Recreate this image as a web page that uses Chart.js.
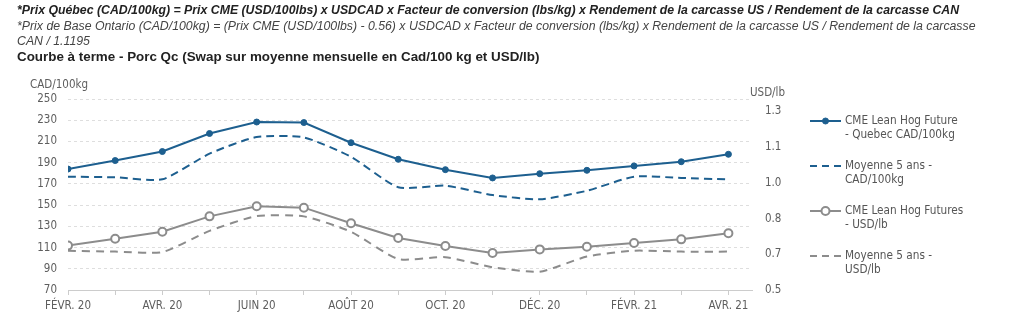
<!DOCTYPE html>
<html>
<head>
<meta charset="utf-8">
<script src="https://cdn.jsdelivr.net/npm/chart.js@4/dist/chart.umd.min.js"></script>
<style>
  html, body { margin: 0; padding: 0; background: #fff; }
  body { width: 1024px; height: 322px; position: relative; overflow: hidden; }
  .note { position: absolute; left: 17px; font-family: 'Liberation Sans', Arial, sans-serif; font-size: 12.3px; line-height: 15px; white-space: nowrap; }
  #l1 { top: 3px; font-weight: bold; font-style: italic; color: #222; }
  #l2 { top: 19px; font-style: italic; color: #444; }
  #l3 { top: 34px; font-style: italic; color: #444; }
  #l4 { top: 49px; font-weight: bold; color: #222; font-size: 13.4px; }
  #wrap { position: absolute; left: 0; top: 0; width: 1024px; height: 322px; }
</style>
</head>
<body>
<div id="wrap"><canvas id="forwardChart"></canvas></div>
<div class="note" id="l1">*Prix Québec (CAD/100kg) = Prix CME (USD/100lbs) x USDCAD x Facteur de conversion (lbs/kg) x Rendement de la carcasse US / Rendement de la carcasse CAN</div>
<div class="note" id="l2">*Prix de Base Ontario (CAD/100kg) = (Prix CME (USD/100lbs) - 0.56) x USDCAD x Facteur de conversion (lbs/kg) x Rendement de la carcasse US / Rendement de la carcasse</div>
<div class="note" id="l3">CAN / 1.1195</div>
<div class="note" id="l4">Courbe à terme - Porc Qc (Swap sur moyenne mensuelle en Cad/100 kg et USD/lb)</div>
<script>
// months of the forward curve
let months = ['FÉVR. 20', 'MARS 20', 'AVR. 20', 'MAI 20', 'JUIN 20', 'JUIL. 20', 'AOÛT 20', 'SEPT. 20',
    'OCT. 20', 'NOV. 20', 'DÉC. 20', 'JANV. 21', 'FÉVR. 21', 'MARS 21', 'AVR. 21'];

// CAD/100kg series (left axis)
let quebecCad = [184, 192, 200.5, 217.5, 228.3, 227.8, 208.8, 193.2, 183.4, 175.6, 179.6, 182.8, 186.9, 190.9, 197.9];
let avgCad = [176.8, 176.2, 174.3, 198.5, 214.2, 213.8, 195.5, 166.8, 168.3, 159.5, 155.5, 163.5, 176.8, 175.6, 174.2];

// USD/lb series (right axis)
let cmeUsd = [0.699, 0.730, 0.761, 0.830, 0.875, 0.869, 0.799, 0.733, 0.697, 0.666, 0.682, 0.694, 0.711, 0.727, 0.754];
let avgUsd = [0.676, 0.672, 0.670, 0.765, 0.831, 0.830, 0.761, 0.639, 0.647, 0.602, 0.582, 0.650, 0.676, 0.672, 0.672];

// axis ranges / ticks
let cadMin = 70, cadMax = 250, cadStep = 20;
let usdTicks = [0.5, 0.66, 0.82, 0.98, 1.14, 1.3];
let usdMin = 0.5, usdMax = 1.356;

const BLUE = '#1d5f8f';
const GREY = '#8c8c8c';
const TICK_FONT = "'DejaVu Sans Condensed', 'Open Sans', sans-serif";
const TICK_COLOR = '#5e5e5e';

const toXY = arr => arr.map((v, i) => ({ x: i, y: v }));

let data = {
    datasets: [{
        label: ['CME Lean Hog Future', '- Quebec CAD/100kg'],
        data: toXY(quebecCad),
        yAxisID: 'yCad',
        borderColor: BLUE,
        backgroundColor: BLUE,
        borderWidth: 2,
        pointRadius: 3,
        pointBorderWidth: 1,
        pointBackgroundColor: BLUE,
        tension: 0
    }, {
        label: ['Moyenne 5 ans -', 'CAD/100kg'],
        data: toXY(avgCad),
        yAxisID: 'yCad',
        borderColor: BLUE,
        borderWidth: 2,
        borderDash: [8, 5],
        pointRadius: 0,
        tension: 0.2
    }, {
        label: ['CME Lean Hog Futures', '- USD/lb'],
        data: toXY(cmeUsd),
        yAxisID: 'yUsd',
        borderColor: GREY,
        borderWidth: 2,
        pointRadius: 4,
        pointBorderWidth: 2,
        pointBackgroundColor: '#fff',
        pointBorderColor: GREY,
        tension: 0
    }, {
        label: ['Moyenne 5 ans -', 'USD/lb'],
        data: toXY(avgUsd),
        yAxisID: 'yUsd',
        borderColor: GREY,
        borderWidth: 2,
        borderDash: [8, 6],
        pointRadius: 0,
        tension: 0.2
    }]
};

// axis unit captions + side legend
const extras = {
    id: 'extras',
    afterDraw(chart) {
        const ctx = chart.ctx;
        ctx.save();
        ctx.font = '11.5px ' + TICK_FONT;
        ctx.fillStyle = TICK_COLOR;
        ctx.textBaseline = 'middle';
        ctx.textAlign = 'left';
        ctx.fillText('CAD/100kg', 30, 85);
        ctx.fillText('USD/lb', 750, 93);

        ctx.font = '11.7px ' + TICK_FONT;
        const rows = [121, 166, 211, 256];
        chart.data.datasets.forEach((ds, i) => {
            const y = rows[i];
            ctx.strokeStyle = ds.borderColor;
            ctx.lineWidth = 2;
            ctx.setLineDash(ds.borderDash ? [7, 5] : []);
            ctx.beginPath();
            ctx.moveTo(810, y);
            ctx.lineTo(841, y);
            ctx.stroke();
            ctx.setLineDash([]);
            if (ds.pointRadius > 0) {
                ctx.beginPath();
                ctx.arc(825.5, y, ds.pointRadius, 0, Math.PI * 2);
                ctx.fillStyle = ds.pointBackgroundColor;
                ctx.fill();
                ctx.lineWidth = ds.pointBorderWidth;
                ctx.strokeStyle = ds.pointBorderColor || ds.borderColor;
                ctx.stroke();
            }
            ctx.fillStyle = '#555';
            ds.label.forEach((t, k) => ctx.fillText(t, 845, y + k * 14));
        });
        ctx.restore();
    }
};

const config = {
    responsive: true,
    maintainAspectRatio: false,
    animation: false,
    layout: { padding: { top: 99, left: 0, right: 224, bottom: 0 } },
    plugins: {
        legend: { display: false },
        tooltip: { enabled: false }
    },
    scales: {
        x: {
            type: 'linear',
            min: 0,
            max: months.length - 0.5,
            afterBuildTicks: axis => { axis.ticks = months.map((m, i) => ({ value: i })); },
            afterFit: axis => { axis.height = 32; },
            ticks: {
                autoSkip: false,
                maxRotation: 0,
                padding: 4,
                color: TICK_COLOR,
                font: { family: TICK_FONT, size: 11.5 },
                callback: v => (v % 2 === 0 ? months[v] : '')
            },
            grid: { drawOnChartArea: false, drawTicks: true, tickLength: 5, color: '#ccc' },
            border: { display: true, color: '#ccc', width: 1 }
        },
        yCad: {
            position: 'left',
            min: cadMin,
            max: cadMax,
            afterFit: axis => { axis.width = 68; },
            ticks: {
                stepSize: cadStep,
                padding: 11,
                color: TICK_COLOR,
                font: { family: TICK_FONT, size: 11.5 }
            },
            grid: { color: '#dedede', drawTicks: false },
            border: { display: false, dash: [3, 3] }
        },
        yUsd: {
            position: 'right',
            min: usdMin,
            max: usdMax,
            afterBuildTicks: axis => { axis.ticks = usdTicks.map(v => ({ value: v })); },
            afterFit: axis => { axis.width = 48; },
            ticks: {
                padding: 13,
                color: TICK_COLOR,
                font: { family: TICK_FONT, size: 11.5 },
                callback: v => v.toFixed(1)
            },
            grid: { display: false, drawTicks: false },
            border: { display: false }
        }
    }
};

let f_Chart = document.getElementById('forwardChart').getContext('2d');

let forward_Chart = new Chart(f_Chart, {
    type: 'line',
    data,
    options: config,
    plugins: [extras]
});
</script>
</body>
</html>
